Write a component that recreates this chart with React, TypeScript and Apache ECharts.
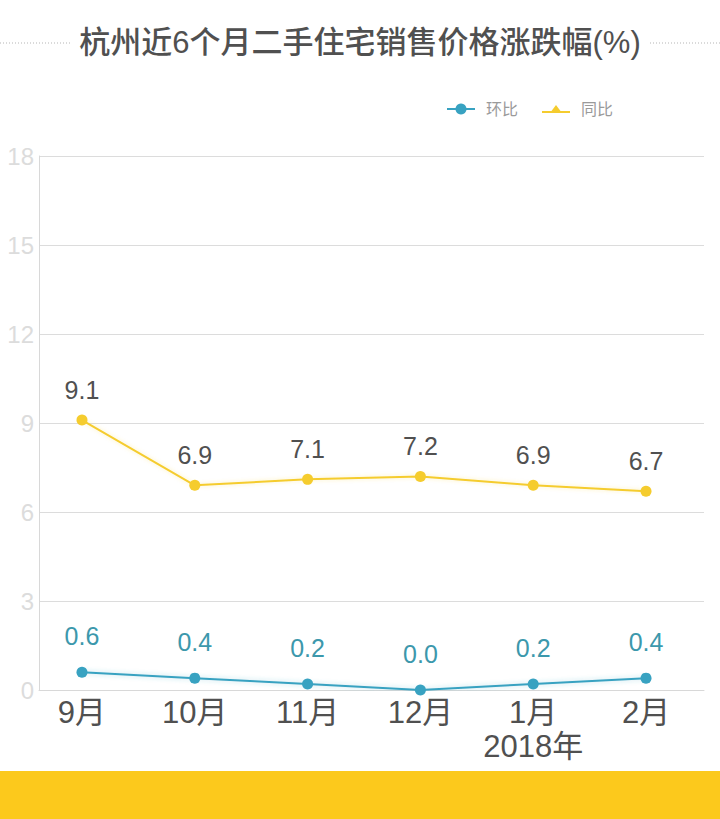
import React, { useEffect, useRef } from "react";
import * as echarts from "echarts";

const categories = ["9月", "10月", "11月", "12月", "1月\n2018年", "2月"];
const momValues = [0.6, 0.4, 0.2, 0.0, 0.2, 0.4]; // 环比
const yoyValues = [9.1, 6.9, 7.1, 7.2, 6.9, 6.7]; // 同比
const yTicks = [0, 3, 6, 9, 12, 15, 18];
const titleText = "杭州近6个月二手住宅销售价格涨跌幅(%)";
const seriesNames = ["环比", "同比"];

const FONT = "'Liberation Sans', 'Noto Sans CJK SC', sans-serif";
const CYAN = "#38A2C1";
const CYAN_LABEL = "#3C98AC";
const YELLOW = "#F5CC2E";

export default function App() {
  const ref = useRef<HTMLDivElement>(null);
  useEffect(() => {
    if (!ref.current) return;
    const chart = echarts.init(ref.current, undefined, { renderer: "svg" });
    const toPts = (arr: number[]) => arr.map((v, i) => [i, v]);
    const catIdx = categories.map((_, i) => i);
    chart.setOption({
      animation: false,
      backgroundColor: "#ffffff",
      title: {
        text: titleText,
        left: "center",
        top: 22,
        textStyle: { fontFamily: FONT, fontSize: 31, fontWeight: 500, color: "#505050" },
      },
      legend: {
        left: 447,
        top: 101,
        itemWidth: 28,
        itemHeight: 14,
        itemGap: 24,
        padding: 0,
        textStyle: { fontFamily: FONT, fontSize: 16, color: "#9a9a9a", padding: [0, 0, 0, 6] },
        data: [
          { name: seriesNames[0], icon: "path://M0,6 L28,6 L28,8 L0,8 Z M14,1.5 A5.5,5.5 0 1 1 13.99,1.5 Z", itemStyle: { color: CYAN } },
          { name: seriesNames[1], icon: "path://M0,9 L28,9 L28,11 L0,11 Z M14,3 L20,11 L8,11 Z", itemStyle: { color: YELLOW } },
        ],
      },
      grid: { left: 39, right: 16, top: 156, bottom: 129, outerBoundsMode: "none" },
      graphic: [
        { type: "line", shape: { x1: 0, y1: 43, x2: 70, y2: 43 }, style: { stroke: "#b5b5b5", lineWidth: 1, lineDash: [1, 2] } },
        { type: "line", shape: { x1: 650, y1: 43, x2: 720, y2: 43 }, style: { stroke: "#b5b5b5", lineWidth: 1, lineDash: [1, 2] } },
        { type: "rect", shape: { x: 0, y: 771, width: 720, height: 48 }, style: { fill: "#FCC91C" } },
      ],
      xAxis: {
        type: "value",
        min: -0.381,
        max: 5.514,
        splitLine: { show: false },
        axisTick: { show: false },
        axisLine: { show: true, onZero: false, lineStyle: { color: "#d8d8d8", width: 1 } },
        axisLabel: {
          customValues: catIdx,
          margin: 5,
          fontFamily: FONT,
          fontSize: 31,
          lineHeight: 34,
          color: "#505050",
          formatter: (v: number) => {
            const i = Math.round(v);
            return i >= 0 && i < categories.length ? categories[i] : "";
          },
        },
      },
      yAxis: {
        type: "value",
        min: yTicks[0],
        max: yTicks[yTicks.length - 1],
        interval: 3,
        axisLine: { show: true, onZero: false, lineStyle: { color: "#d8d8d8", width: 1 } },
        axisTick: { show: false },
        splitLine: { show: true, lineStyle: { color: "#dcdcdc", width: 1 } },
        axisLabel: { margin: 5, fontFamily: FONT, fontSize: 24, color: "#dcdcdc" },
      },
      series: [
        {
          name: seriesNames[0],
          type: "line",
          data: toPts(momValues),
          symbol: "circle",
          symbolSize: 11,
          lineStyle: { color: CYAN, width: 2, shadowColor: "rgba(56,162,193,0.35)", shadowBlur: 5 },
          itemStyle: { color: CYAN },
          label: {
            show: true,
            position: "top",
            distance: 18,
            fontFamily: FONT,
            fontSize: 25,
            color: CYAN_LABEL,
            formatter: (p: any) => p.value[1].toFixed(1),
          },
          z: 3,
        },
        {
          name: seriesNames[1],
          type: "line",
          data: toPts(yoyValues),
          symbol: "circle",
          symbolSize: 11,
          lineStyle: { color: YELLOW, width: 2, shadowColor: "rgba(245,204,46,0.3)", shadowBlur: 4 },
          itemStyle: { color: YELLOW },
          label: {
            show: true,
            position: "top",
            distance: 12,
            fontFamily: FONT,
            fontSize: 25,
            color: "#505050",
            formatter: (p: any) => p.value[1].toFixed(1),
          },
          z: 3,
        },
      ],
    });
    return () => chart.dispose();
  }, []);
  return (
    <div
      ref={ref}
      style={{ position: "absolute", left: 0, top: 0, width: 720, height: 819 }}
    />
  );
}
